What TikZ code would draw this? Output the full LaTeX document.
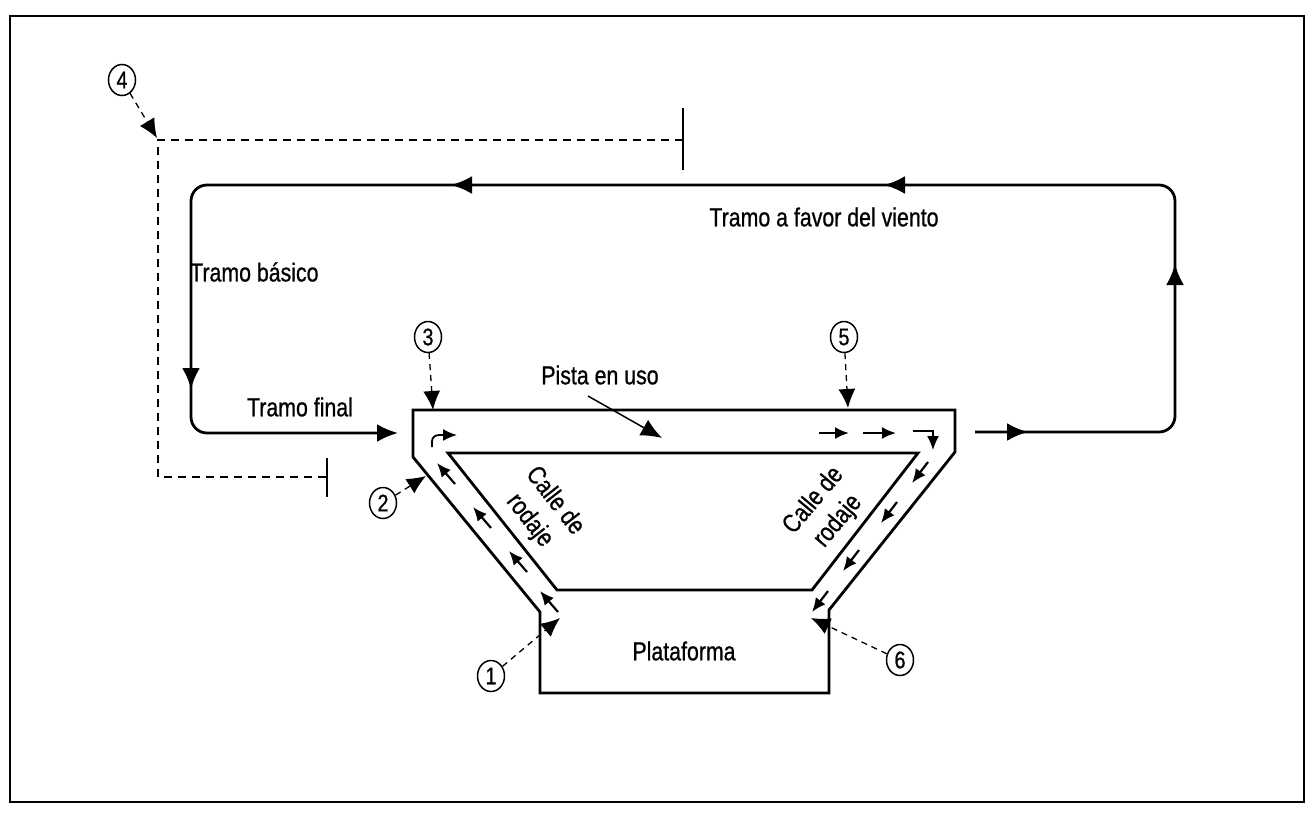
\documentclass[tikz,border=0pt]{standalone}
\usepackage{fontspec}
\setmainfont{Liberation Sans}[FakeStretch=0.82, FakeBold=0.8]
\usetikzlibrary{arrows.meta,shapes.geometric}
\begin{document}
\begin{tikzpicture}[x=1pt,y=-1pt,
  thickline/.style={line width=2.8pt},
  lbl/.style={font=\fontsize{26}{32}\selectfont, inner sep=0pt},
  callout/.style={draw, ellipse, line width=1.5pt, minimum width=27pt, minimum height=31pt, inner sep=0pt, font=\fontsize{24}{24}\selectfont},
  dasharrow/.style={line width=1.3pt, dash pattern=on 6pt off 5pt, -{Latex[length=19pt,width=17pt]}},
  bigtip/.style={-{Latex[length=21pt,width=18pt]}},
  smallarr/.style={line width=2.2pt, -{Latex[length=14pt,width=12pt]}},
  guide/.style={line width=1.5pt, dash pattern=on 8pt off 6pt},
]
\useasboundingbox (0,0) rectangle (1313,814);
% frame
\draw[line width=2.4pt] (10,16) rectangle (1304,802);

% runway, taxiways and apron
\draw[thickline, line join=miter] (413,410) -- (955,410) -- (955,452) -- (829,610) -- (829,693) -- (540,693) -- (540,612) -- (413,457) -- cycle;
\draw[thickline, line join=miter] (448,453) -- (918,453) -- (812,590) -- (557,590) -- cycle;

% traffic pattern
\draw[thickline, rounded corners=16pt, bigtip] (975,432) -- (1175,432) -- (1175,185) -- (191,185) -- (191,433) -- (398,433);
\draw[thickline, bigtip] (1000,432) -- (1028,432);
\draw[thickline, bigtip] (1175,300) -- (1175,264);
\draw[thickline, bigtip] (920,185) -- (884,185);
\draw[thickline, bigtip] (480,185) -- (451,185);
\draw[thickline, bigtip] (191,360) -- (191,389);

% guide lines
\draw[guide] (683,140) -- (158,140) -- (158,477) -- (327,477);
\draw[line width=1.5pt] (683,108) -- (683,170);
\draw[line width=1.5pt] (327,458) -- (327,497);

% labels
\node[lbl] (favor) at (824,217) {Tramo a favor del viento};
\node[lbl, anchor=west] (basico) at (190,272) {Tramo básico};
\node[lbl] (final) at (300,407) {Tramo final};
\node[lbl] (pista) at (600,375) {Pista en uso};
\node[lbl] (plat) at (684,651) {Plataforma};
\node[lbl, rotate=-52, align=center] (cl) at (542,511) {Calle de\\rodaje};
\node[lbl, rotate=50, align=center] (cr) at (826,511) {Calle de\\rodaje};
\coordinate (pistatip) at (662,438);
\draw[line width=1.5pt, -{Latex[length=21pt,width=18pt]}] (588,396) -- (pistatip);

% small taxi arrows
\draw[smallarr] (455,484) -- (437,463);
\draw[smallarr] (491,528) -- (473,507);
\draw[smallarr] (527,572) -- (509,551);
\draw[smallarr] (558,612) -- (540,591);
\draw[smallarr] (928,462) -- (912,483);
\draw[smallarr] (897,502) -- (881,523);
\draw[smallarr] (859,550) -- (843,571);
\draw[smallarr] (828,591) -- (812,612);
\draw[smallarr] (819,433) -- (849,433);
\draw[smallarr] (863,433) -- (896,433);
\draw[smallarr, line width=1.4pt] (913,431) -- (933,431) -- (933,450);
\draw[smallarr, line width=1.8pt] (432,447) -- (432,441) to[out=90,in=180] (439,435) -- (457,435);

% callouts
\node[callout] (c4) at (122,80) {4};
\node[callout] (c3) at (428,337) {3};
\node[callout] (c5) at (844,337) {5};
\node[callout] (c2) at (383,503) {2};
\node[callout] (c1) at (491,676) {1};
\node[callout] (c6) at (900,660) {6};
\coordinate (t4) at (157,138);
\coordinate (t3) at (433,410);
\coordinate (t5) at (848,408);
\coordinate (t2) at (426,476);
\coordinate (t1) at (560,618);
\coordinate (t6) at (811,618);
\draw[dasharrow] (c4) -- (t4);
\draw[dasharrow] (c3) -- (t3);
\draw[dasharrow] (c5) -- (t5);
\draw[dasharrow] (c2) -- (t2);
\draw[dasharrow] (c1) -- (t1);
\draw[dasharrow] (c6) -- (t6);
\end{tikzpicture}
\end{document}
